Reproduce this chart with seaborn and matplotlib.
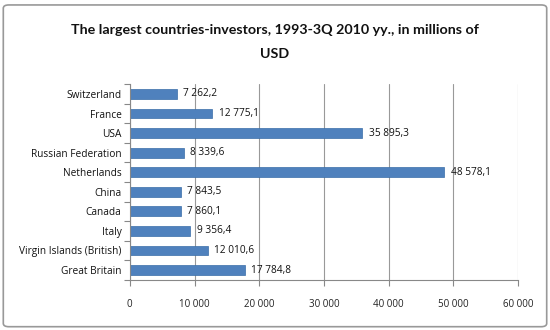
import matplotlib
matplotlib.use("Agg")
import matplotlib.pyplot as plt
import seaborn as sns
import pandas as pd
import numpy as np
from matplotlib.patches import FancyBboxPatch

countries = ["Switzerland", "France", "USA", "Russian Federation", "Netherlands",
             "China", "Canada", "Italy", "Virgin Islands (British)", "Great Britain"]
values = [7262.2, 12775.1, 35895.3, 8339.6, 48578.1, 7843.5, 7860.1, 9356.4, 12010.6, 17784.8]
xticks = [0, 10000, 20000, 30000, 40000, 50000, 60000]
xtick_labels = ["0", "10 000", "20 000", "30 000", "40 000", "50 000", "60 000"]
title = "The largest countries-investors, 1993-3Q 2010 yy., in millions of\nUSD"

df = pd.DataFrame({"country": countries, "value": values})

sns.set_theme(style="white")
plt.rcParams["font.family"] = ["Open Sans", "DejaVu Sans"]

fig = plt.figure(figsize=(5.5, 3.3), dpi=100)
ax = fig.add_axes([0.236, 0.152, 0.706, 0.593])

sns.barplot(data=df, x="value", y="country", orient="h", color="#4F81BD",
            saturation=1, width=0.5, ax=ax, edgecolor="#3A6EA8", linewidth=0.5)

ax.set_xlim(0, 60000)
ax.set_ylim(len(countries) - 0.5, -0.5)
ax.set_xticks(xticks)
ax.set_xticklabels(xtick_labels, fontsize=7, color="#222222")
ax.set_xlabel("")
ax.set_ylabel("")
ax.tick_params(axis="y", labelsize=7.3, colors="#111111", length=0, pad=6)
ax.tick_params(axis="x", length=4, width=0.8, color="#888888", direction="out", pad=10, bottom=True)
ax.set_yticks(np.arange(-0.5, len(countries), 1.0), minor=True)
ax.tick_params(axis="y", which="minor", length=4, width=0.8, color="#888888", left=True)
ax.grid(axis="x", color="#999999", linewidth=0.8)
ax.set_axisbelow(True)
for s in ["top", "right"]:
    ax.spines[s].set_visible(False)
for s in ["left", "bottom"]:
    ax.spines[s].set_color("#888888")
    ax.spines[s].set_linewidth(0.8)

def fmt(v):
    s = f"{v:,.1f}"
    return s.replace(",", " ").replace(".", ",")

for i, v in enumerate(values):
    ax.text(v + 1000, i, fmt(v), va="center", ha="left", fontsize=7.3, color="#111111")

fig.text(0.5, 0.873, title, ha="center", va="center", fontsize=10.3,
         fontweight="bold", color="#111111", linespacing=2.25,
         family=["Lato", "DejaVu Sans"])

border = FancyBboxPatch((0.006, 0.01), 0.988, 0.975, boxstyle="round,pad=0,rounding_size=0.01",
                        transform=fig.transFigure, fill=False, edgecolor="#999999", linewidth=1.2)
fig.patches.append(border)

fig.savefig("out.png", dpi=100)
